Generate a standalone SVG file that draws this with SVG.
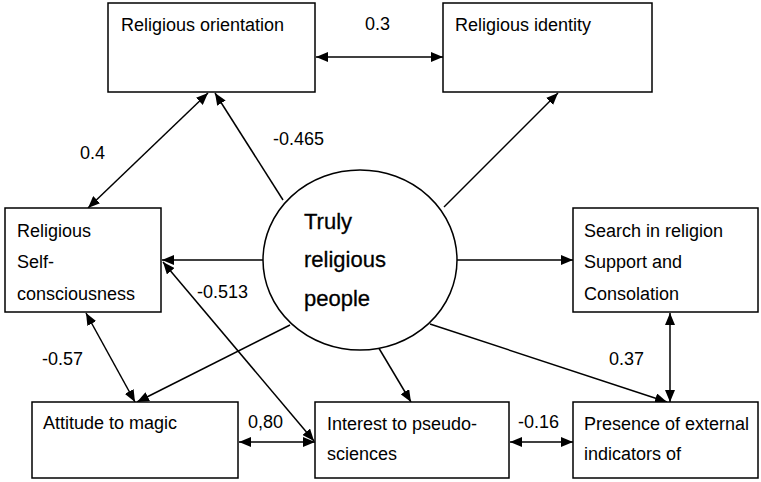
<svg xmlns="http://www.w3.org/2000/svg" width="761" height="482" viewBox="0 0 761 482">
  <style>
    .box { fill: #fff; stroke: #000; stroke-width: 1.5; }
    .lbl { font-family: "Liberation Sans", Arial, sans-serif; font-size: 18px; fill: #000; }
    .big { font-family: "Liberation Sans", Arial, sans-serif; font-size: 22px; fill: #000; stroke: #000; stroke-width: 0.3; }
    .edge { fill: none; stroke: #000; stroke-width: 1.5; }
    .one { marker-end: url(#head); }
    .two { marker-start: url(#head); marker-end: url(#head); }
  </style>
  <defs>
    <marker id="head" viewBox="0 0 12 10" refX="12" refY="5" markerWidth="12" markerHeight="10" markerUnits="userSpaceOnUse" orient="auto-start-reverse">
      <path d="M0,0 L12,5 L0,10 z" fill="#000"/>
    </marker>
  </defs>

  <rect width="761" height="482" fill="#fff"/>

  <g id="connectors">
    <line class="edge two" x1="316" y1="57" x2="443" y2="57"/>
    <line class="edge two" x1="88" y1="208" x2="208" y2="93"/>
    <line class="edge one" x1="283" y1="200" x2="215" y2="93"/>
    <line class="edge one" x1="444" y1="207" x2="558" y2="93"/>
    <line class="edge one" x1="263" y1="260" x2="162" y2="260"/>
    <line class="edge one" x1="457" y1="260" x2="573" y2="260"/>
    <line class="edge two" x1="163" y1="262" x2="314" y2="441"/>
    <line class="edge two" x1="86" y1="313" x2="135" y2="402"/>
    <line class="edge one" x1="290" y1="325" x2="137" y2="402"/>
    <line class="edge one" x1="377" y1="345" x2="411" y2="402"/>
    <line class="edge one" x1="430" y1="324" x2="667" y2="402"/>
    <line class="edge two" x1="670" y1="313" x2="670" y2="402"/>
    <line class="edge two" x1="239" y1="442" x2="315" y2="442"/>
    <line class="edge two" x1="510" y1="442" x2="573" y2="442"/>
    <text class="lbl" x="365" y="30">0.3</text>
    <text class="lbl" x="80" y="159">0.4</text>
    <text class="lbl" x="273" y="145">-0.465</text>
    <text class="lbl" x="197" y="298">-0.513</text>
    <text class="lbl" x="42" y="365">-0.57</text>
    <text class="lbl" x="609" y="365">0.37</text>
    <text class="lbl" x="248" y="428">0,80</text>
    <text class="lbl" x="518" y="428">-0.16</text>
  </g>

  <g id="religious-orientation">
    <rect class="box" x="108" y="3" width="207" height="89"/>
    <text class="lbl" x="121" y="31">Religious orientation</text>
  </g>

  <g id="religious-identity">
    <rect class="box" x="443" y="3" width="209" height="89"/>
    <text class="lbl" x="455" y="31">Religious identity</text>
  </g>

  <g id="religious-self-consciousness">
    <rect class="box" x="5" y="208" width="156" height="104"/>
    <text class="lbl" x="17" y="237">Religious</text>
    <text class="lbl" x="17" y="268">Self-</text>
    <text class="lbl" x="17" y="300">consciousness</text>
  </g>

  <g id="truly-religious-people">
    <ellipse cx="360" cy="260" rx="97" ry="90" fill="#fff" stroke="#000" stroke-width="1.5"/>
    <text class="big" x="304" y="229">Truly</text>
    <text class="big" x="304" y="267">religious</text>
    <text class="big" x="304" y="306">people</text>
  </g>

  <g id="search-in-religion">
    <rect class="box" x="573" y="208" width="185" height="104"/>
    <text class="lbl" x="584" y="237">Search in religion</text>
    <text class="lbl" x="584" y="268">Support and</text>
    <text class="lbl" x="584" y="300">Consolation</text>
  </g>

  <g id="attitude-to-magic">
    <rect class="box" x="32" y="402" width="206" height="76"/>
    <text class="lbl" x="43" y="429">Attitude to magic</text>
  </g>

  <g id="interest-to-pseudo-sciences">
    <rect class="box" x="315" y="402" width="194" height="76"/>
    <text class="lbl" x="327" y="430">Interest to pseudo-</text>
    <text class="lbl" x="327" y="460">sciences</text>
  </g>

  <g id="presence-of-external-indicators">
    <rect class="box" x="573" y="402" width="185" height="76"/>
    <text class="lbl" x="584" y="430">Presence of external</text>
    <text class="lbl" x="584" y="460">indicators of</text>
  </g>
</svg>
